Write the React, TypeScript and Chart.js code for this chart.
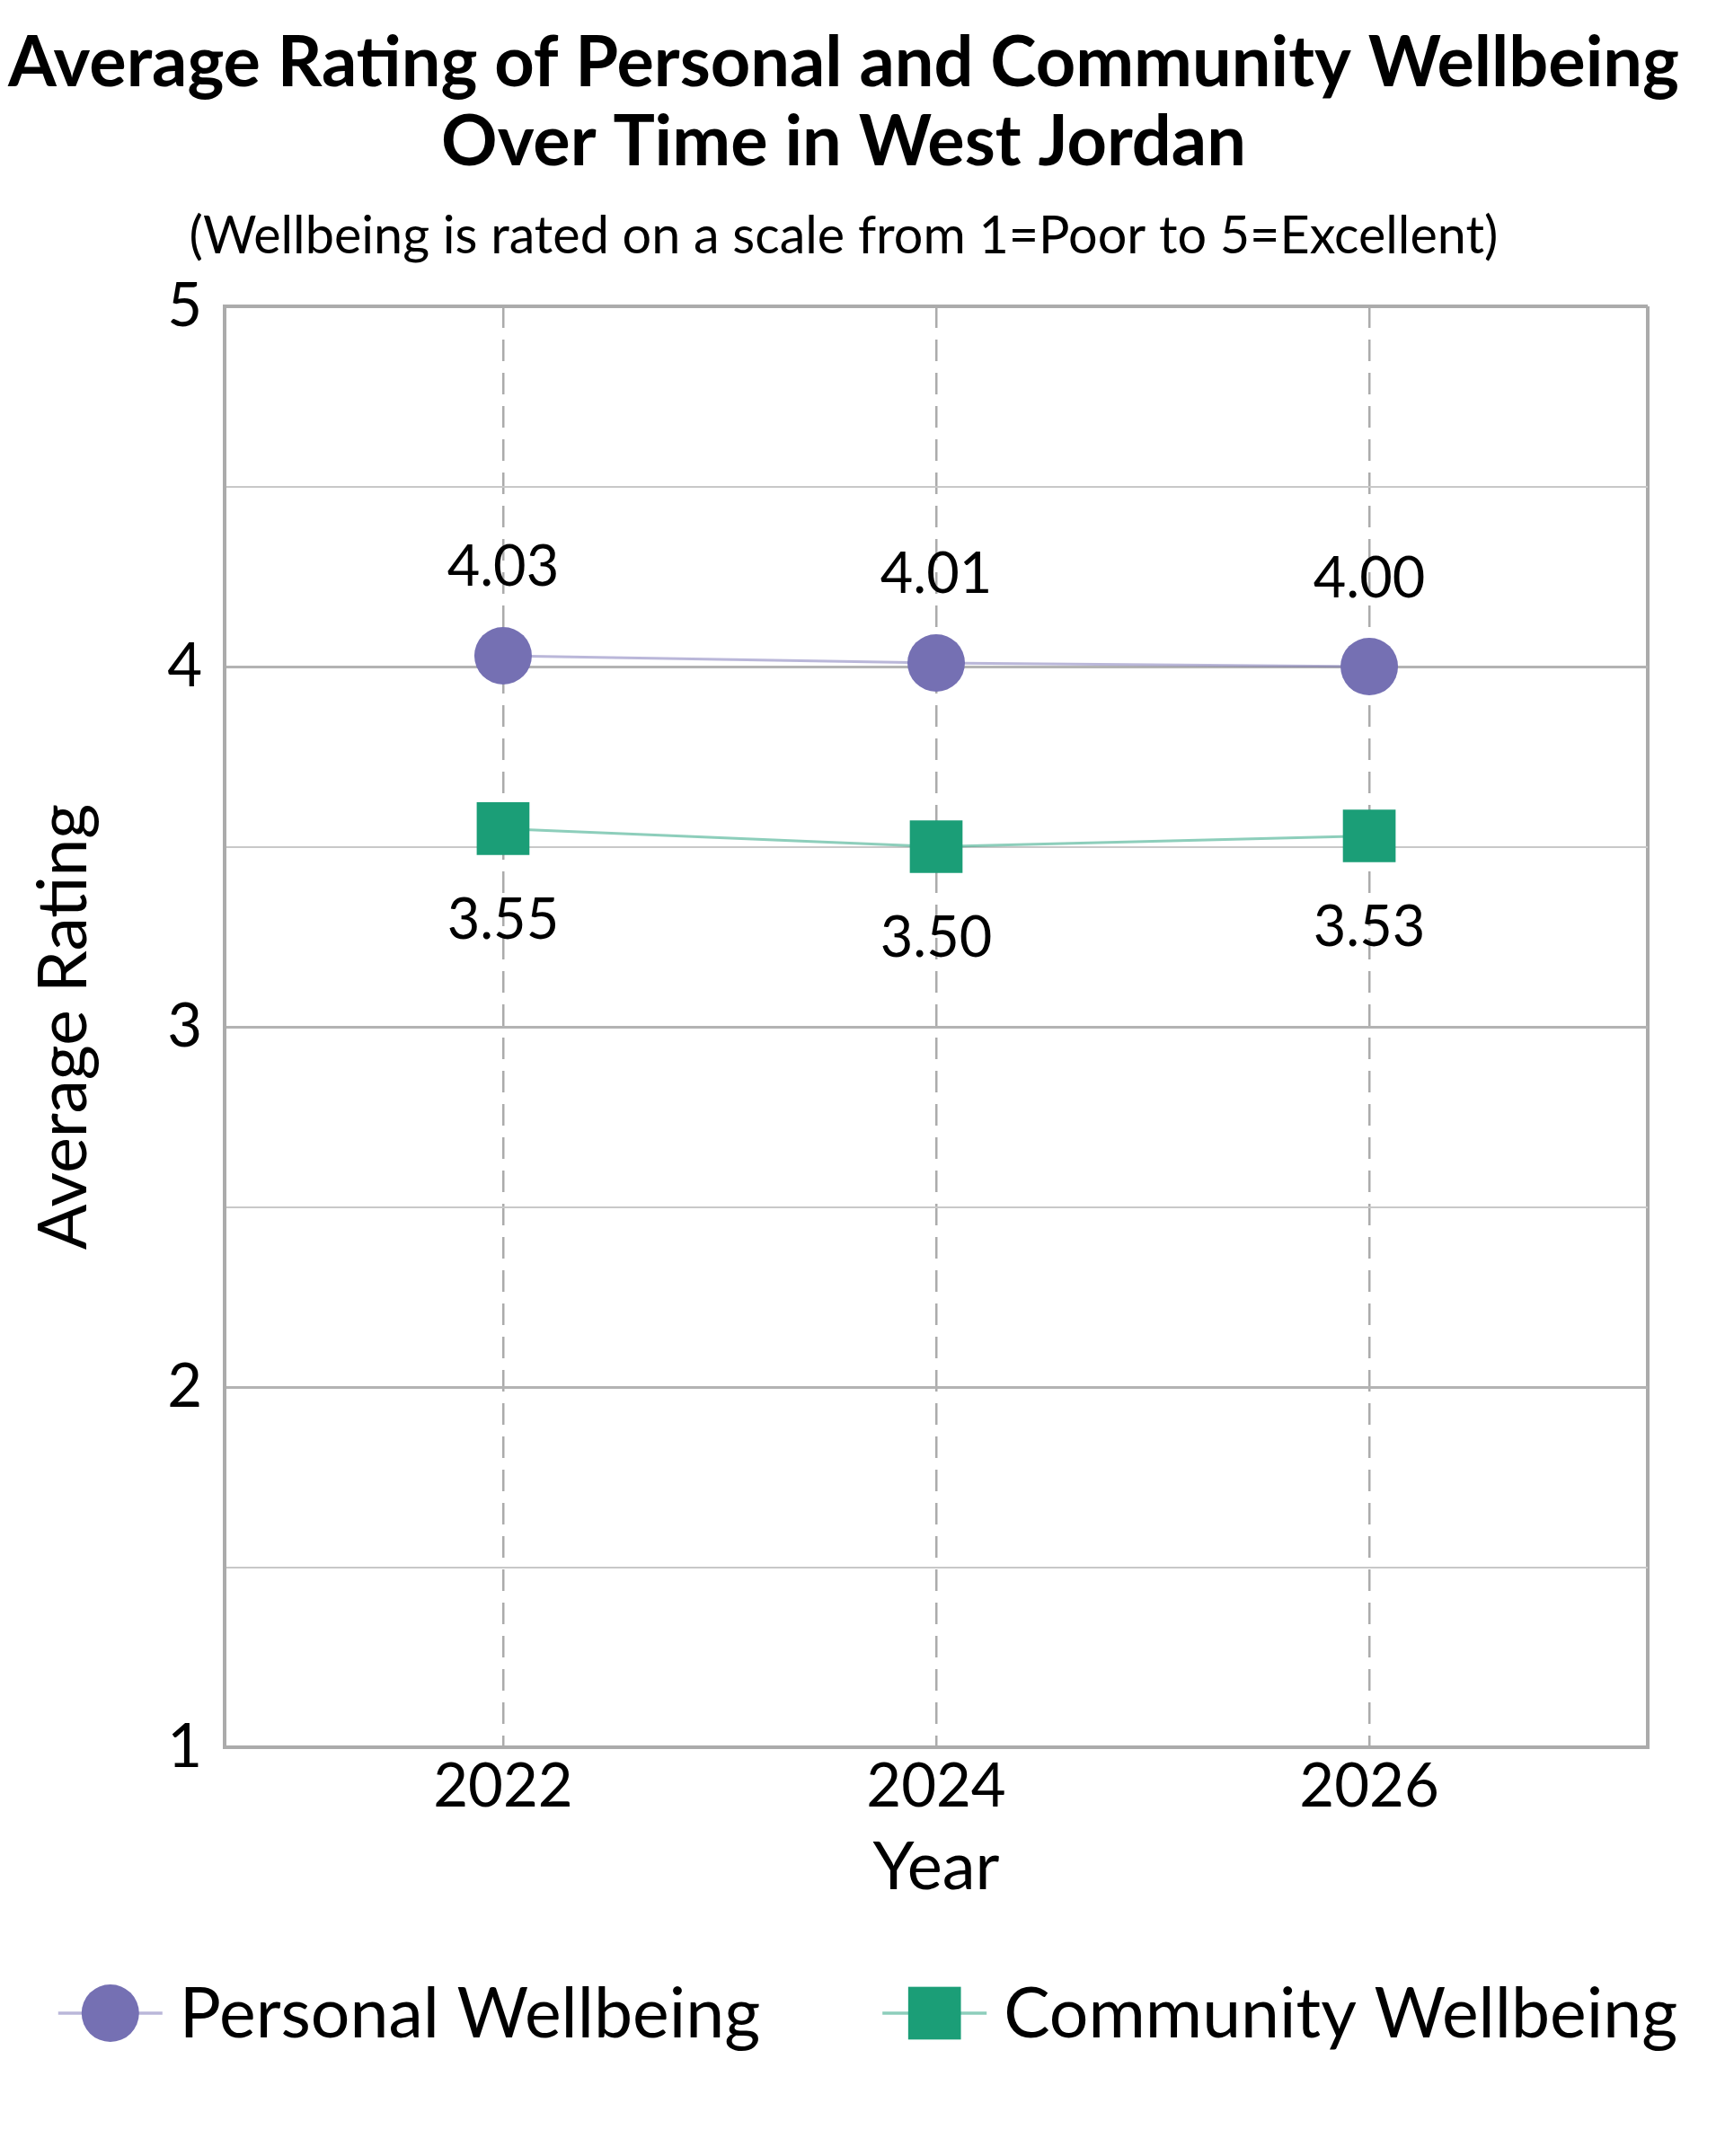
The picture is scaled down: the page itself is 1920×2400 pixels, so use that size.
import React, { useEffect, useRef } from 'react';
import { Chart, registerables } from 'chart.js';

Chart.register(...registerables);

// ---- data ----
const years = [2022, 2024, 2026];
const personal = [4.03, 4.01, 4.0];
const community = [3.55, 3.5, 3.53];
const seriesLabels = ['Personal Wellbeing', 'Community Wellbeing'];
const yTickValues = [1, 2, 3, 4, 5];
const titleLines = ['Average Rating of Personal and Community Wellbeing', 'Over Time in West Jordan'];
const subtitleText = '(Wellbeing is rated on a scale from 1=Poor to 5=Excellent)';
const xTitle = 'Year';
const yTitle = 'Average Rating';

// ---- styling ----
const FONT = 'Lato';
const PURPLE = '#7570b3';
const GREEN = '#1b9e77';
const PURPLE_LINE = 'rgba(117,112,179,0.5)';
const GREEN_LINE = 'rgba(27,158,119,0.5)';
const BORDER = '#ababab';
const MAJOR = '#b3b3b3';
const MINOR = '#c8c8c8';
const DASHC = '#ababab';
const X_MIN = 2020.714;
const X_MAX = 2027.286;

const dataLabelPlugin = {
  id: 'dataLabels',
  afterDatasetsDraw(chart: any) {
    const ctx = chart.ctx;
    ctx.save();
    ctx.font = `63px ${FONT}`;
    ctx.fillStyle = '#000';
    ctx.textAlign = 'center';
    ctx.textBaseline = 'alphabetic';
    chart.data.datasets.forEach((d: any, di: number) => {
      const meta = chart.getDatasetMeta(di);
      const off = di === 0 ? -77.5 : 122.5;
      meta.data.forEach((pt: any, i: number) => {
        const v = d.data[i].y as number;
        ctx.fillText(v.toFixed(2), pt.x, pt.y + off);
      });
    });
    ctx.restore();
  },
};

const legendPlugin = {
  id: 'customLegend',
  afterDraw(chart: any) {
    const ctx = chart.ctx;
    ctx.save();
    ctx.font = `77px ${FONT}`;
    const ds = chart.data.datasets;
    const lineLen = 116;
    const gapText = 19;
    const gapItems = 136;
    const widths = ds.map((d: any) => ctx.measureText(d.label).width);
    const total =
      ds.length * (lineLen + gapText) +
      widths.reduce((a: number, b: number) => a + b, 0) +
      gapItems * (ds.length - 1);
    let x = 966 - total / 2;
    const cy = 2241;
    const baseline = 2268;
    ds.forEach((d: any, i: number) => {
      ctx.strokeStyle = d.borderColor;
      ctx.lineWidth = 3.5;
      ctx.beginPath();
      ctx.moveTo(x, cy);
      ctx.lineTo(x + lineLen, cy);
      ctx.stroke();
      const mx = x + lineLen / 2;
      ctx.fillStyle = d.pointBackgroundColor;
      if (d.pointStyle === 'rect') {
        const s = d.pointRadius * Math.SQRT1_2;
        ctx.fillRect(mx - s, cy - s, 2 * s, 2 * s);
      } else {
        ctx.beginPath();
        ctx.arc(mx, cy, d.pointRadius, 0, Math.PI * 2);
        ctx.fill();
      }
      ctx.fillStyle = '#000';
      ctx.textAlign = 'left';
      ctx.textBaseline = 'alphabetic';
      ctx.fillText(d.label, x + lineLen + gapText, baseline);
      x += lineLen + gapText + widths[i] + gapItems;
    });
    ctx.restore();
  },
};

export default function App() {
  const ref = useRef<HTMLCanvasElement>(null);

  useEffect(() => {
    Chart.defaults.font.family = FONT;
    Chart.defaults.color = '#000';
    const isEdgeX = (v: number) => !years.includes(v);
    const chart = new Chart(ref.current as HTMLCanvasElement, {
      type: 'line',
      data: {
        datasets: [
          {
            label: seriesLabels[0],
            data: years.map((x, i) => ({ x, y: personal[i] })),
            borderColor: PURPLE_LINE,
            borderWidth: 3,
            pointStyle: 'circle',
            pointRadius: 32,
            pointHoverRadius: 32,
            pointBorderWidth: 0,
            pointBackgroundColor: PURPLE,
            pointBorderColor: PURPLE,
            clip: false as any,
          },
          {
            label: seriesLabels[1],
            data: years.map((x, i) => ({ x, y: community[i] })),
            borderColor: GREEN_LINE,
            borderWidth: 3,
            pointStyle: 'rect',
            pointRadius: 41.5,
            pointHoverRadius: 41.5,
            pointBorderWidth: 0,
            pointBackgroundColor: GREEN,
            pointBorderColor: GREEN,
            clip: false as any,
          },
        ],
      },
      options: {
        responsive: false,
        devicePixelRatio: 1,
        animation: false,
        events: [],
        layout: { padding: { left: 0, right: 42, top: 0, bottom: 276 } },
        scales: {
          x: {
            type: 'linear',
            min: X_MIN,
            max: X_MAX,
            afterBuildTicks: (s: any) => {
              s.ticks = [X_MIN, ...years, X_MAX].map((v) => ({ value: v }));
            },
            afterFit: (s: any) => {
              s.height = 179;
            },
            ticks: {
              autoSkip: false,
              maxRotation: 0,
              padding: 4,
              font: { size: 67 },
              color: '#000',
              callback: (v: any) => (years.includes(Number(v)) ? String(v) : ''),
            },
            grid: {
              drawTicks: false,
              color: (c: any) => (c.tick && isEdgeX(c.tick.value) ? BORDER : DASHC),
              lineWidth: (c: any) => (c.tick && isEdgeX(c.tick.value) ? 4 : 2.5),
            },
            border: {
              display: true,
              color: BORDER,
              width: 4,
              dash: (c: any) => (c.tick && years.includes(c.tick.value) ? [24, 13] : []),
            } as any,
            title: {
              display: true,
              text: xTitle,
              font: { size: 74 },
              color: '#000',
              padding: { top: 0, bottom: 0 },
            },
          },
          y: {
            type: 'linear',
            min: 1,
            max: 5,
            afterFit: (s: any) => {
              s.width = 250;
            },
            ticks: {
              stepSize: 0.5,
              autoSkip: false,
              padding: 25,
              font: { size: 67 },
              color: '#000',
              callback: (v: any) => (yTickValues.includes(Number(v)) ? String(v) : ''),
            },
            grid: {
              drawTicks: false,
              color: (c: any) => {
                const v = c.tick ? c.tick.value : 0;
                if (v === 1 || v === 5) return BORDER;
                return Number.isInteger(v) ? MAJOR : MINOR;
              },
              lineWidth: (c: any) => {
                const v = c.tick ? c.tick.value : 0;
                if (v === 1 || v === 5) return 4;
                return Number.isInteger(v) ? 3 : 2;
              },
            },
            border: { display: true, color: BORDER, width: 4 },
            title: {
              display: true,
              text: yTitle,
              font: { size: 75, lineHeight: 0.75 },
              color: '#000',
              padding: { top: 44, bottom: 94 },
            },
          },
          // empty spacer on the right so the plot frame ends where the reference does
          yRight: {
            type: 'linear',
            position: 'right',
            display: true,
            afterFit: (s: any) => {
              s.width = 44;
            },
            ticks: { display: false },
            grid: { display: false, drawTicks: false },
            border: { display: false },
            title: { display: false },
          },
        },
        plugins: {
          legend: { display: false },
          tooltip: { enabled: false },
          title: {
            display: true,
            text: titleLines,
            color: '#000',
            font: { size: 77.5, weight: 'bold', lineHeight: 88 / 77.5 },
            padding: { top: 27, bottom: 26 },
          },
          subtitle: {
            display: true,
            text: subtitleText,
            color: '#000',
            font: { size: 57.5, lineHeight: 1.2 },
            padding: { top: 0, bottom: 43 },
          },
        },
      },
      plugins: [dataLabelPlugin, legendPlugin],
    } as any);
    return () => chart.destroy();
  }, []);

  return (
    <div style={{ position: 'absolute', left: 0, top: 0, width: 1920, height: 2400, background: '#fff' }}>
      <canvas ref={ref} width={1920} height={2400} style={{ display: 'block', width: 1920, height: 2400 }} />
    </div>
  );
}
